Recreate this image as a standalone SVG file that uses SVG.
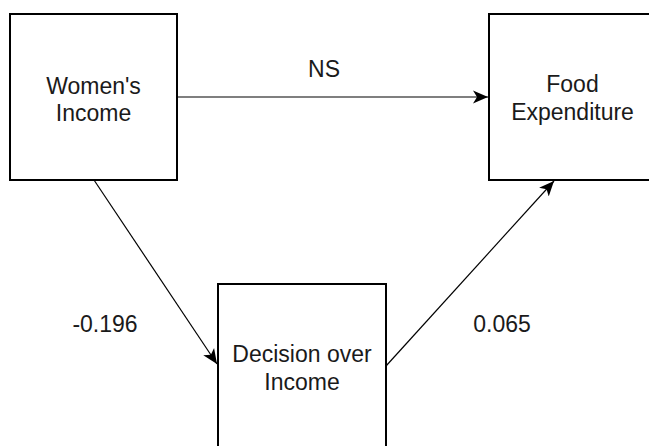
<svg xmlns="http://www.w3.org/2000/svg" width="649" height="446" viewBox="0 0 649 446">
<style>
.box{fill:#fff;stroke:#000;stroke-width:2}
.t{font-family:"Liberation Sans",Arial,Helvetica,sans-serif;font-size:23px;fill:#1a1a1a;text-anchor:middle}
.e{fill:none;stroke:#000;stroke-width:1.2}
</style>
<defs>
<marker id="ah" markerUnits="userSpaceOnUse" markerWidth="16" markerHeight="16" refX="15" refY="8" orient="auto">
<path d="M0,1.5 L15,8 L0,14.5 L4,8 Z" fill="#000"/>
</marker>
</defs>
<rect width="649" height="446" fill="#fff"/>
<g id="edges">
<line class="e" x1="177" y1="97" x2="488" y2="97" marker-end="url(#ah)"/>
<line class="e" x1="94" y1="180" x2="217" y2="364" marker-end="url(#ah)"/>
<line class="e" x1="386" y1="366" x2="554" y2="181" marker-end="url(#ah)"/>
<text class="t" x="324" y="77">NS</text>
<text class="t" x="105" y="332">-0.196</text>
<text class="t" x="502" y="332">0.065</text>
</g>
<g id="womens-income">
<rect class="box" x="10" y="14" width="167" height="166"/>
<text class="t" x="93.5" y="94">Women's</text>
<text class="t" x="93.5" y="121">Income</text>
</g>
<g id="food-expenditure">
<rect class="box" x="489" y="14" width="167" height="166"/>
<text class="t" x="572.5" y="92">Food</text>
<text class="t" x="572.5" y="120">Expenditure</text>
</g>
<g id="decision-over-income">
<rect class="box" x="218" y="284" width="168" height="166"/>
<text class="t" x="302" y="362">Decision over</text>
<text class="t" x="302" y="390">Income</text>
</g>
</svg>
